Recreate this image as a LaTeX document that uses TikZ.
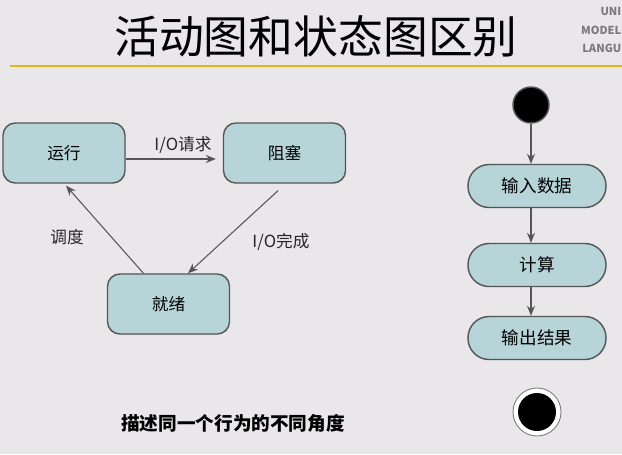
\documentclass[tikz,border=0pt]{standalone}
\usepackage{fontspec}
\setmainfont{Noto Sans CJK SC}
\usetikzlibrary{arrows.meta, positioning, calc}
\definecolor{cbg}{HTML}{E9E7E9}
\definecolor{cbox}{HTML}{B7D5D9}
\definecolor{cedge}{HTML}{555555}
\definecolor{cline}{HTML}{E2B719}
\definecolor{cgrey}{HTML}{7A7A7A}
\tikzset{
  every picture/.style={x=0.02cm, y=-0.02cm, line width=0.8pt},
  state/.style={draw=cedge, fill=cbox, rounded corners=7pt, minimum width=2.44cm, minimum height=1.2cm, font=\fontsize{9.5}{11}\selectfont},
  act/.style={draw=cedge, fill=cbox, rounded corners=12pt, minimum width=2.76cm, minimum height=0.86cm, font=\fontsize{10}{12}\selectfont},
  arrow/.style={-{Stealth[length=2mm, width=1.6mm]}, draw=cedge, line width=0.6pt},
  lbl/.style={font=\fontsize{9.5}{11}\selectfont, text=black!85},
  title/.style={font=\fontsize{25.5}{28}\selectfont},
  corner/.style={font=\fontsize{6.3}{7}\selectfont\bfseries, text=cgrey, anchor=east, inner sep=0pt},
}
\begin{document}
\begin{tikzpicture}
  \fill[cbg] (0,0) rectangle (622,454);
  \useasboundingbox (0,0) rectangle (622,454);
  % heading
  \node[title] (head) at (316,36) {活动图和状态图区别};
  \node[corner] (u1) at (622,11) {UNI};
  \node[corner] (u2) at (622,30) {MODEL};
  \node[corner] (u3) at (622,48) {LANGU};
  \draw[cline, line width=1.6pt] (10,66) -- (622,66);
  % state diagram
  \node[state] (yx) at (64,153) {运行};
  \node[state] (zs) at (284.5,153) {阻塞};
  \node[state] (jx) at (168.5,304) {就绪};
  \draw[arrow, shorten >=4pt] ($(yx.east)+(0,6)$) -- ($(zs.west)+(0,6)$);
  \draw[arrow] ($(jx.north)+(-25,0)$) -- ($(yx.south)+(2,2)$);
  \draw[arrow] ($(zs.south)+(-6.5,7)$) -- ($(jx.north)+(19.5,0)$);
  \node[lbl] (l1) at (183,145) {I/O请求};
  \node[lbl] (l2) at (67,237) {调度};
  \node[lbl] (l3) at (281,242) {I/O完成};
  % activity diagram
  \node[circle, fill=black, draw=cedge, minimum size=0.72cm, inner sep=0pt] (st) at (531,105) {};
  \node[act] (a1) at (537,186) {输入数据};
  \node[act] (a2) at (537,265) {计算};
  \node[act] (a3) at (537,338) {输出结果};
  \draw[arrow] (st.south) -- (st.south |- a1.north);
  \draw[arrow] (st.south |- a1.south) -- (st.south |- a2.north);
  \draw[arrow] (st.south |- a2.south) -- (st.south |- a3.north);
  \node[circle, fill=white, draw=cgrey, line width=0.5pt, minimum size=0.96cm, inner sep=0pt] (en) at (537,412) {};
  \node[circle, fill=black, minimum size=0.76cm, inner sep=0pt] (enin) at (en.center) {};
  % note
  \node[font=\fontsize{10.6}{12}\selectfont\bfseries] (nt) at (233,423) {描述同一个行为的不同角度};
\end{tikzpicture}
\end{document}
